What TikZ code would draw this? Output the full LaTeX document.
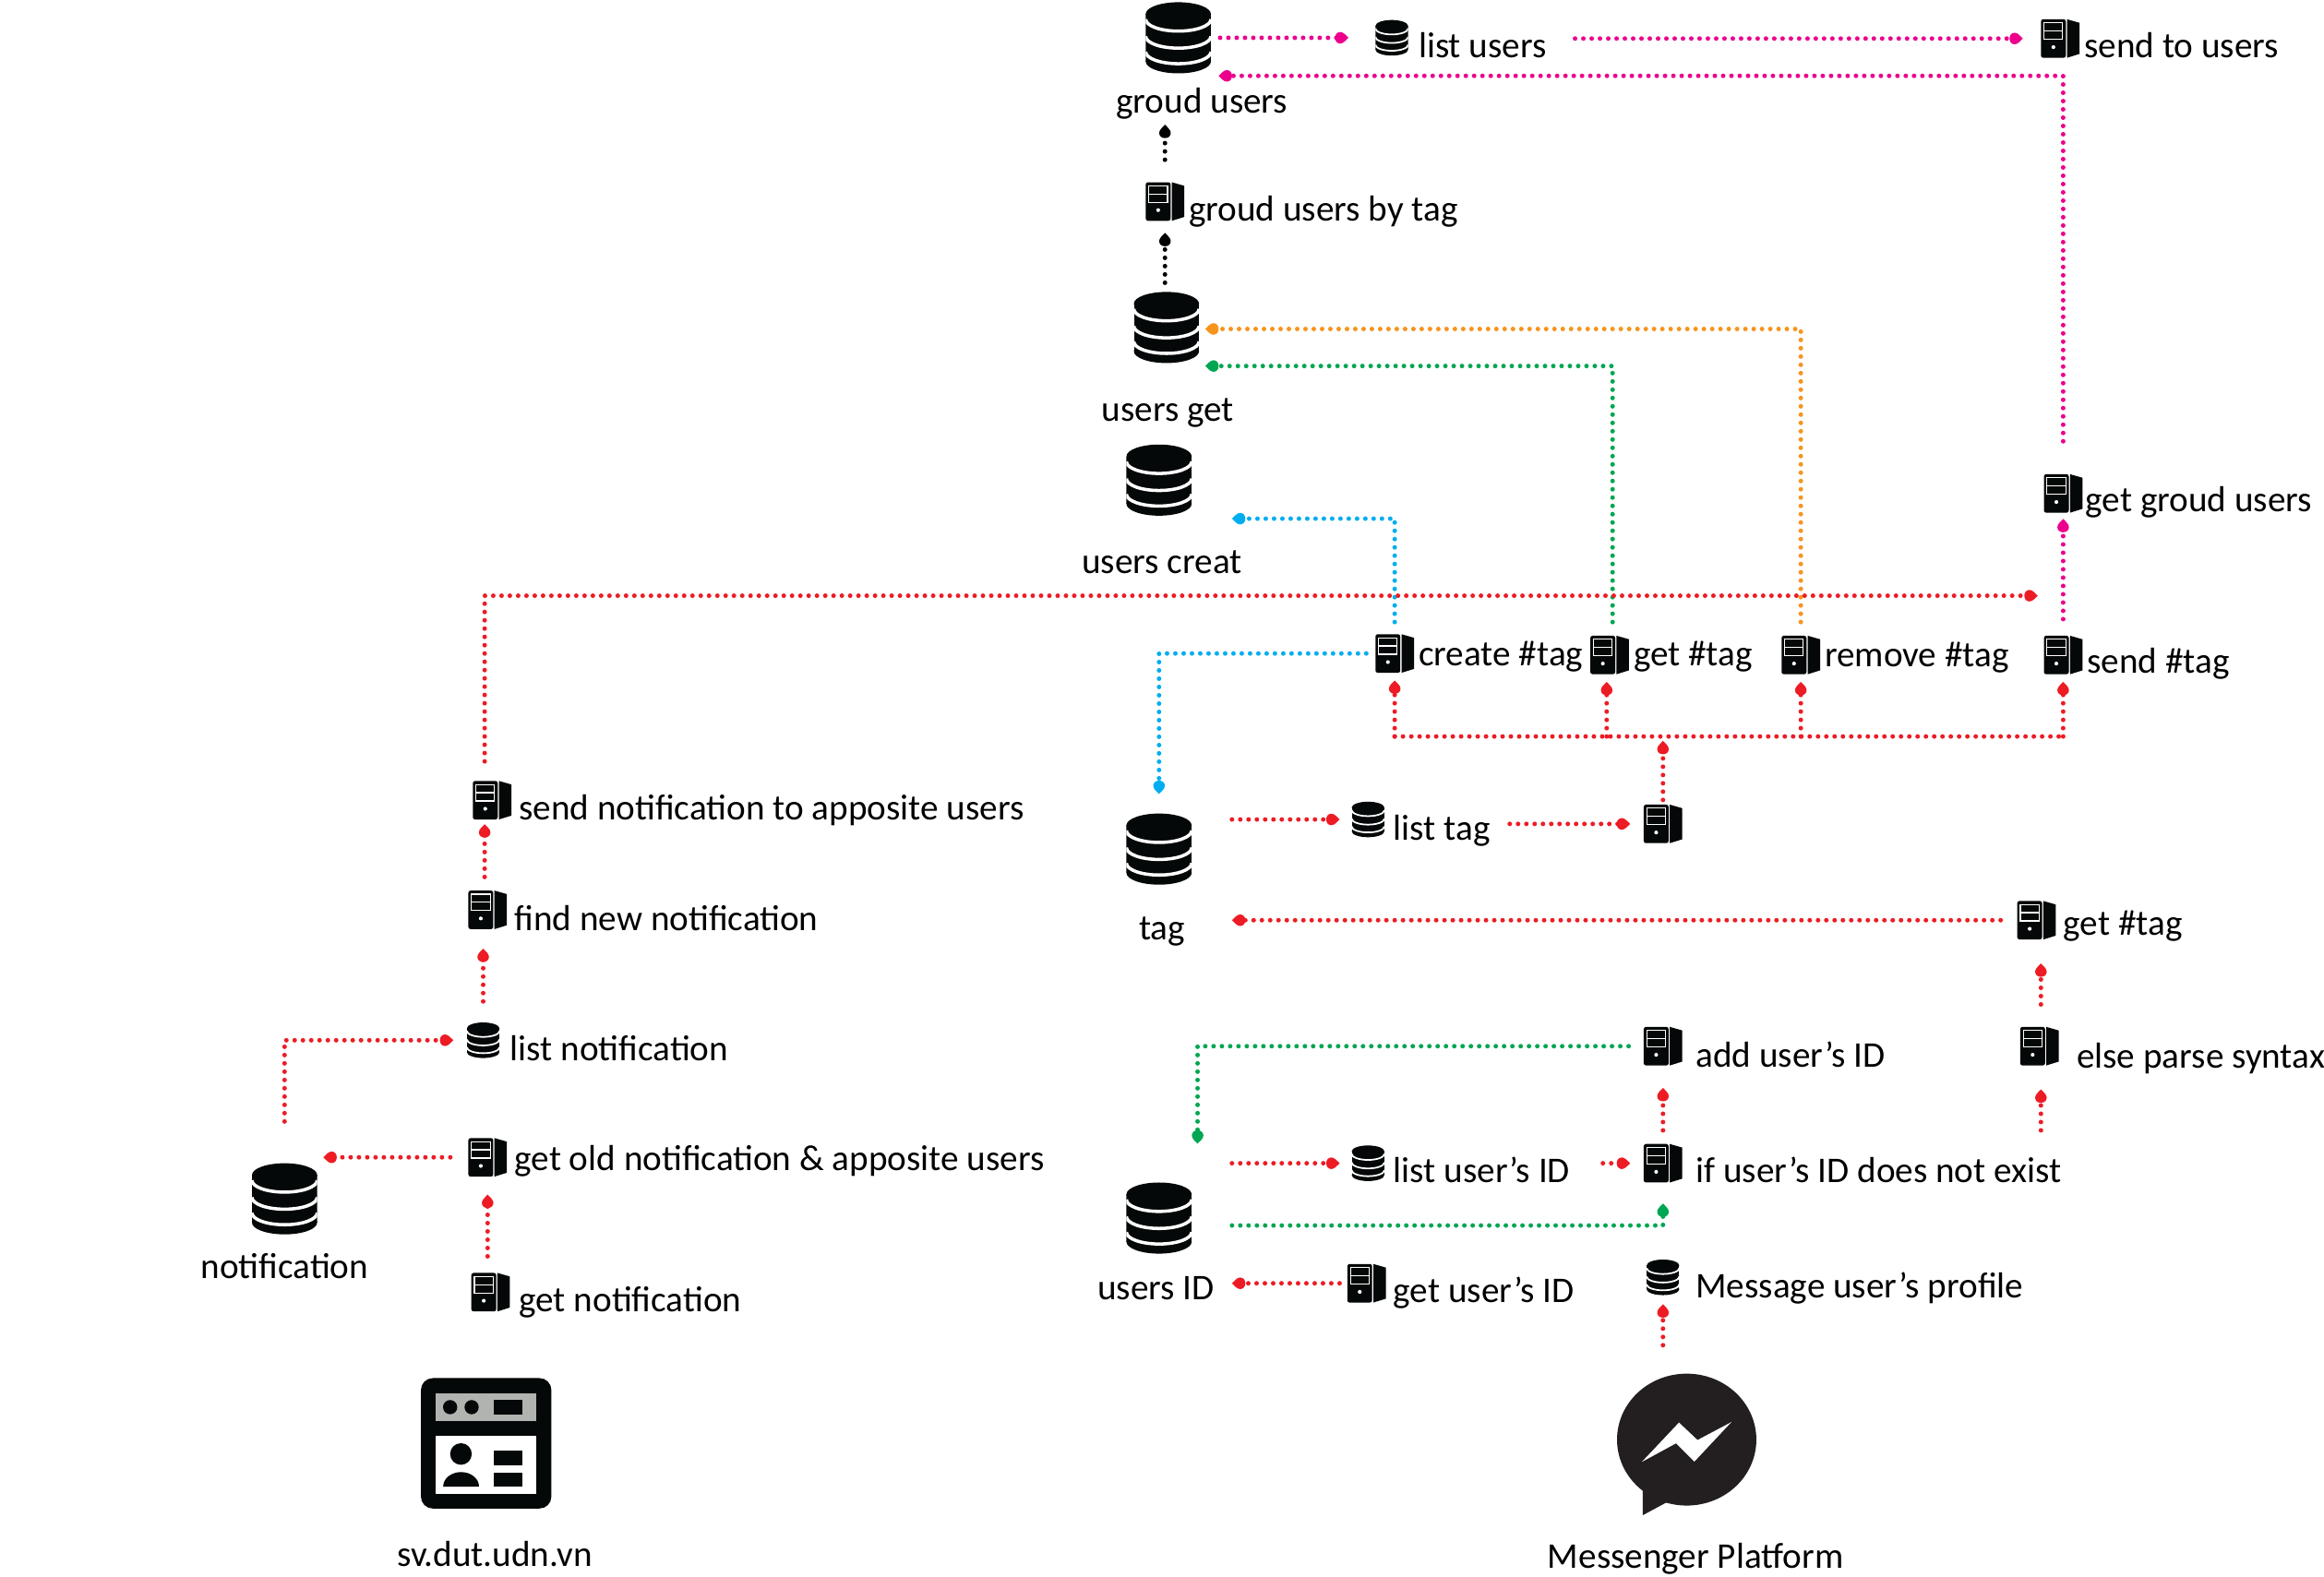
\documentclass[tikz,border=0pt]{standalone}
\usepackage{fontspec}
\setmainfont{Carlito}
\usetikzlibrary{arrows.meta,shapes.geometric}
\definecolor{iconblack}{HTML}{050808}
\definecolor{msgrblack}{HTML}{231F20}
\definecolor{webgray}{HTML}{B1B3B1}
\definecolor{flowred}{HTML}{ED1C24}
\definecolor{flowpink}{HTML}{EC008C}
\definecolor{floworange}{HTML}{F7941D}
\definecolor{flowgreen}{HTML}{00A651}
\definecolor{flowblue}{HTML}{00AEEF}
\pgfdeclarearrow{
  name=Drop,
  setup code={
    \pgfarrowssettipend{0pt}
    \pgfarrowssetlineend{-5pt}
    \pgfarrowssetvisualbackend{-9pt}
    \pgfarrowssetbackend{-9pt}
    \pgfarrowshullpoint{0pt}{0pt}
    \pgfarrowshullpoint{-9pt}{3.9pt}
    \pgfarrowshullpoint{-9pt}{-3.9pt}
  },
  drawing code={
    \pgfpathmoveto{\pgfqpoint{0pt}{0pt}}
    \pgfpathcurveto{\pgfqpoint{-1.6pt}{1.5pt}}{\pgfqpoint{-3.4pt}{3.9pt}}{\pgfqpoint{-5.5pt}{3.9pt}}
    \pgfpathcurveto{\pgfqpoint{-7.6pt}{3.9pt}}{\pgfqpoint{-9pt}{2.3pt}}{\pgfqpoint{-9pt}{0pt}}
    \pgfpathcurveto{\pgfqpoint{-9pt}{-2.3pt}}{\pgfqpoint{-7.6pt}{-3.9pt}}{\pgfqpoint{-5.5pt}{-3.9pt}}
    \pgfpathcurveto{\pgfqpoint{-3.4pt}{-3.9pt}}{\pgfqpoint{-1.6pt}{-1.5pt}}{\pgfqpoint{0pt}{0pt}}
    \pgfusepathqfill
  }
}
\newcommand{\srvdraw}{%
  \begin{scope}[shift={(path picture bounding box.center)}]
    \fill[iconblack, rounded corners=1.5pt] (-13,-13) rectangle (3.8,13);
    \fill[iconblack] (4.6,-13) -- (13,-10.6) -- (13,10.4) -- (4.6,13) -- cycle;
    \draw[white, line width=0.7pt] (-10.9,-10.6) rectangle (1.7,0.5);
    \draw[white, line width=0.7pt] (-10.9,-5.1) -- (1.7,-5.1);
    \fill[white] (-4.6,5.8) circle (1.3pt);
  \end{scope}}
\newcommand{\dbdraw}[1]{%
  \begin{scope}[shift={(path picture bounding box.center)}, x=#1pt, y=-#1pt]
    \fill[iconblack] (0,-16) ellipse [x radius=22, y radius=8];
    \fill[iconblack] (0,16) ellipse [x radius=22, y radius=8];
    \fill[iconblack] (-22,-16) rectangle (22,16);
    \foreach \yc in {-12.5,-1,9.5}
      \draw[white, line width=2.2pt*#1] (-22,\yc) arc [start angle=180, end angle=0, x radius=22, y radius=8];
  \end{scope}}
\tikzset{
  srv/.style={inner sep=0pt, minimum width=26pt, minimum height=26pt, path picture={\srvdraw}},
  dbbig/.style={inner sep=0pt, minimum width=44pt, minimum height=48pt, path picture={\dbdraw{1}}},
  dbsmall/.style={inner sep=0pt, minimum width=22pt, minimum height=24pt, path picture={\dbdraw{0.5}}},
  lbl/.style={inner sep=0pt, text height=21pt, text depth=3pt, font=\fontsize{24.4}{29}\selectfont},
  sidelbl/.style={lbl, anchor=west},
  flowline/.style={dash pattern=on 0pt off 5.6pt, line cap=round, line width=3.1pt},
  flow/.style={flowline, -Drop}
}
\begin{document}
\begin{tikzpicture}[x=1pt, y=-1pt]
  \useasboundingbox (0,0) rectangle (1568,1064.2);

  \node[dbbig] (dbgroud) at (795,25.5) {};
  \node[dbbig] (dbget) at (787,221) {};
  \node[dbbig] (dbcreat) at (782,324) {};
  \node[dbbig] (dbtag) at (782,573) {};
  \node[dbbig] (dbid) at (782,822) {};
  \node[dbbig] (dbnoti) at (192,809) {};

  \node[dbsmall] (lusers) at (939,25.5) {};
  \node[dbsmall] (ltag) at (923,553) {};
  \node[dbsmall] (lnoti) at (326,702) {};
  \node[dbsmall] (lid) at (923,785) {};
  \node[dbsmall] (mprofile) at (1122,862) {};

  \node[srv] (ssend) at (1390,26) {};
  \node[srv] (sby) at (786,136) {};
  \node[srv] (sgroud) at (1392,333) {};
  \node[srv] (screate) at (941,441) {};
  \node[srv] (sgettag) at (1086,442) {};
  \node[srv] (sremove) at (1215,442) {};
  \node[srv] (stag) at (1392,442) {};
  \node[srv] (shub) at (1122,556) {};
  \node[srv] (sparsetag) at (1374,621) {};
  \node[srv] (selse) at (1376,706) {};
  \node[srv] (sadd) at (1122,706) {};
  \node[srv] (sifid) at (1122,785) {};
  \node[srv] (sgetid) at (922,866) {};
  \node[srv] (snotify) at (332,540) {};
  \node[srv] (sfind) at (329,614) {};
  \node[srv] (sold) at (329,781) {};
  \node[srv] (sgetnoti) at (331,872) {};

  \node[lbl] (tgroud) at (811,67) {groud users};
  \node[lbl] (tget) at (788,275) {users get};
  \node[lbl] (tcreat) at (784,378) {users creat};
  \node[lbl] (ttag) at (784,625) {tag};
  \node[lbl] (tid) at (780,868) {users ID};
  \node[lbl] (tnoti) at (192,854) {notification};
  \node[lbl] (tweb) at (334,1048) {sv.dut.udn.vn};
  \node[lbl] (tmsgr) at (1144,1049) {Messenger Platform};

  \node[sidelbl] (tlusers) at (957,30) {list users};
  \node[sidelbl] (tssend) at (1406,30) {send to users};
  \node[sidelbl] (tsby) at (802,140) {groud users by tag};
  \node[sidelbl] (tsgroud) at (1407,336) {get groud users};
  \node[sidelbl] (tscreate) at (957,440) {create \#tag};
  \node[sidelbl] (tsgettag) at (1102,440) {get \#tag};
  \node[sidelbl] (tsremove) at (1231,441) {remove \#tag};
  \node[sidelbl] (tstag) at (1408,445) {send \#tag};
  \node[sidelbl] (tltag) at (940,558) {list tag};
  \node[sidelbl] (tsparsetag) at (1392,622) {get \#tag};
  \node[sidelbl] (tselse) at (1401,712) {else parse syntax};
  \node[sidelbl] (tsadd) at (1144,711) {add user’s ID};
  \node[sidelbl] (tsifid) at (1144,789) {if user’s ID does not exist};
  \node[sidelbl] (tlid) at (940,789) {list user’s ID};
  \node[sidelbl] (tsgetid) at (940,870) {get user’s ID};
  \node[sidelbl] (tmprofile) at (1144,867) {Message user’s profile};
  \node[sidelbl] (tsnotify) at (350,544) {send notification to apposite users};
  \node[sidelbl] (tsfind) at (347,619) {find new notification};
  \node[sidelbl] (tlnoti) at (344,707) {list notification};
  \node[sidelbl] (tsold) at (347,781) {get old notification \& apposite users};
  \node[sidelbl] (tsgetnoti) at (350,876) {get notification};

  \node[ellipse, fill=msgrblack, inner sep=0pt, minimum width=94pt, minimum height=89pt] (msgr) at (1138,971.5) {};
  \fill[msgrblack] (1108.4,1003) -- (1108.4,1022.5) -- (1126,1013) -- cycle;
  \fill[white] (1107.8,986.5) -- (1132.8,960) -- (1145.3,971.8) -- (1168.1,959.7) -- (1143.2,986.3) -- (1130.8,974) -- cycle;

  \node[fill=iconblack, rounded corners=8pt, inner sep=0pt, minimum size=88pt] (web) at (328,974) {};
  \begin{scope}[shift={(web.center)}]
    \fill[webgray] (-34,-34) rectangle (34,-14.8);
    \fill[iconblack] (-24.3,-24.4) circle (4.8pt) (-9.8,-24.4) circle (4.8pt);
    \fill[iconblack] (5.2,-29.2) rectangle (24.5,-19.6);
    \fill[white] (-34,-4.9) rectangle (34,33.9);
    \fill[iconblack] (-17,7.2) circle (7.3pt);
    \fill[iconblack] (-29,29.2) -- (-4.8,29.2) arc [start angle=0, end angle=180, x radius=12.1, y radius=-9.8] -- cycle;
    \fill[iconblack] (5.2,4.9) rectangle (24.5,14.6);
    \fill[iconblack] (5.2,19.6) rectangle (24.5,29.2);
  \end{scope}

  \coordinate (busl) at (941,497);
  \coordinate (busr) at (1392,497);

  \draw[flow, flowpink, shorten <=6pt, shorten >=18pt] (dbgroud.east) -- (lusers.west);
  \draw[flow, flowpink, shorten <=19pt, shorten >=12pt] (tlusers.east |- ssend.west) -- (ssend.west);
  \draw[flow, flowpink, shorten <=22pt, shorten >=5pt] (sgroud.north) |- ([yshift=-1.5pt]dbgroud.south east);
  \draw[flow, flowpink, shorten <=11pt, shorten >=4pt] (stag.north) -- (sgroud.south);

  \draw[flow, shorten <=6pt, shorten >=8pt] (sby.south |- dbget.north) -- (sby.south);
  \draw[flow, shorten <=15pt, shorten >=5pt] (sby.north) -- (sby.north |- tgroud.south);

  \draw[flow, floworange, shorten <=9pt, shorten >=4pt] (sremove.north) |- ([yshift=-1pt]dbget.east);
  \draw[flow, flowgreen, shorten <=9pt, shorten >=4pt] ([xshift=2pt]sgettag.north) |- ([yshift=-26pt]dbget.east);
  \draw[flow, flowblue, shorten <=8pt, shorten >=27pt] (screate.north) |- ([yshift=-26pt]dbcreat.east);
  \draw[flow, flowblue, shorten <=6pt, shorten >=13pt] (screate.west) -| (dbtag.north);

  \draw[flow, flowred, shorten <=13pt] ([xshift=-5pt]snotify.north) |- ([xshift=-4pt,yshift=40pt]stag.west);
  \draw[flow, flowred, shorten <=9pt, shorten >=3pt] ([xshift=-2pt]sfind.north) -- ([xshift=-5pt]snotify.south);
  \draw[flow, flowred, shorten <=14pt, shorten >=13pt] (lnoti.north) -- (lnoti.north |- sfind.south);
  \draw[flow, flowred, shorten <=28pt, shorten >=9pt] (dbnoti.north) |- (lnoti.west);
  \draw[flow, flowred, shorten <=12pt, shorten >=4pt] (sold.west) -- (dbnoti.east |- sold.west);
  \draw[flow, flowred, shorten <=11pt, shorten >=12pt] (sold.south |- sgetnoti.north) -- (sold.south);

  \draw[flowline, flowred] (busl) -- (busr);
  \draw[flow, flowred, shorten >=5pt] (busl) -- (screate.south);
  \draw[flow, flowred, shorten >=5pt] ([xshift=-2pt]busl -| sgettag.south) -- ([xshift=-2pt]sgettag.south);
  \draw[flow, flowred, shorten >=5pt] (busl -| sremove.south) -- (sremove.south);
  \draw[flow, flowred, shorten >=5pt] (busr) -- (stag.south);
  \draw[flow, flowred, shorten <=3pt, shorten >=3pt] (shub.north) -- (shub.north |- busl);

  \draw[flow, flowred, shorten <=27pt, shorten >=8pt] (dbtag.east |- ltag.west) -- (ltag.west);
  \draw[flow, flowred, shorten <=13pt, shorten >=9pt] (tltag.east |- shub.west) -- (shub.west);
  \draw[flow, flowred, shorten <=11pt, shorten >=27pt] (sparsetag.west) -- (dbtag.east |- sparsetag.west);
  \draw[flow, flowred, shorten <=15pt, shorten >=16pt] ([xshift=1pt]selse.north) -- ([xshift=1pt]selse.north |- sparsetag.south);
  \draw[flow, flowred, shorten <=14pt, shorten >=16pt] ([xshift=1pt]selse.south |- tsifid.north) -- ([xshift=1pt]selse.south);
  \draw[flow, flowred, shorten <=9pt, shorten >=15pt] (sifid.north) -- (sadd.south);
  \draw[flow, flowred, shorten <=22pt, shorten >=9pt] (tlid.east |- sifid.west) -- (sifid.west);
  \draw[flow, flowred, shorten <=27pt, shorten >=8pt] (dbid.east |- lid.west) -- (lid.west);
  \draw[flow, flowgreen, shorten <=10pt, shorten >=26pt] (sadd.west) -| ([xshift=26pt]dbid.north);
  \draw[flow, flowgreen, shorten <=27pt, shorten >=14pt] ([yshift=-5pt]dbid.east) -| (sifid.south);
  \draw[flow, flowred, shorten <=5pt, shorten >=27pt] (sgetid.west) -- (dbid.east |- sgetid.west);
  \draw[flow, flowred, shorten <=19pt, shorten >=6pt] (msgr.north -| mprofile.south) -- (mprofile.south);
\end{tikzpicture}
\end{document}
